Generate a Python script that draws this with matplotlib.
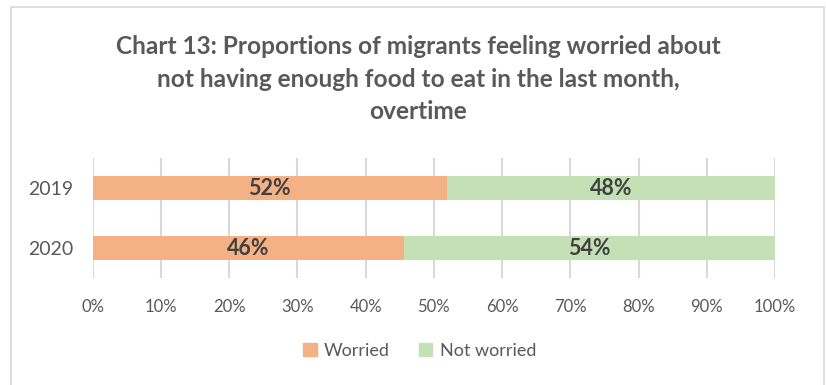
import matplotlib.pyplot as plt
from matplotlib.patches import Rectangle, Patch

# -----------------------------------------------------
# Data
# -----------------------------------------------------
YEARS = ["2019", "2020"]
WORRIED = [51.9, 45.6]
NOT_WORRIED = [48.1, 54.4]
X_TICKS = [0, 10, 20, 30, 40, 50, 60, 70, 80, 90, 100]

TITLE = ("Chart 13: Proportions of migrants feeling worried about\n"
         "not having enough food to eat in the last month,\n"
         "overtime")

# -----------------------------------------------------
# Style
# -----------------------------------------------------
ORANGE = "#F4B183"
GREEN = "#C5E0B4"
TEXT_GREY = "#595959"
LABEL_DARK = "#404040"
GRID_GREY = "#D9D9D9"
FONT = "Lato"

plt.rcParams["font.family"] = [FONT, "DejaVu Sans"]

fig = plt.figure(figsize=(8.26, 3.85), dpi=100)
ax = fig.add_axes([0.1122, 0.2779, 0.8261, 0.3117])

# chart frame
fig.patches.append(Rectangle((0.0133, -0.05), 0.9843, 1.0318,
                             transform=fig.transFigure, fill=False,
                             edgecolor=GRID_GREY, linewidth=1.2))

pos = list(range(len(YEARS)))
ax.barh(pos, WORRIED, height=0.4, color=ORANGE, label="Worried", zorder=2)
ax.barh(pos, NOT_WORRIED, left=WORRIED, height=0.4, color=GREEN,
        label="Not worried", zorder=2)

for i in pos:
    ax.text(WORRIED[i] / 2, i, f"{WORRIED[i]:.0f}%", ha="center", va="center",
            fontsize=15.5, fontweight="bold", color=LABEL_DARK, zorder=3)
    ax.text(WORRIED[i] + NOT_WORRIED[i] / 2, i, f"{NOT_WORRIED[i]:.0f}%",
            ha="center", va="center", fontsize=15.5, fontweight="bold",
            color=LABEL_DARK, zorder=3)

ax.set_xlim(0, 100)
ax.set_ylim(1.5, -0.5)
ax.set_xticks(X_TICKS)
ax.set_xticklabels([f"{t}%" for t in X_TICKS])
ax.set_yticks(pos)
ax.set_yticklabels(YEARS)
ax.tick_params(axis="x", length=0, pad=15, labelsize=12, labelcolor=TEXT_GREY)
ax.tick_params(axis="y", length=0, pad=14, labelsize=14, labelcolor=TEXT_GREY)

for side in ["top", "right", "bottom", "left"]:
    ax.spines[side].set_visible(False)
ax.grid(axis="x", color=GRID_GREY, linewidth=1.5, zorder=0)
ax.set_axisbelow(True)

fig.text(0.506, 0.794, TITLE, ha="center", va="center", fontsize=17.6,
         fontweight="bold", color=TEXT_GREY, linespacing=1.5)

handles = [Patch(color=ORANGE, label="Worried"),
           Patch(color=GREEN, label="Not worried")]
fig.legend(handles=handles, loc="center", bbox_to_anchor=(0.508, 0.088),
           ncol=2, frameon=False, fontsize=13, labelcolor=TEXT_GREY,
           handlelength=0.75, handleheight=0.75, handletextpad=0.4,
           columnspacing=1.6)

fig.savefig("out.png", dpi=100)
